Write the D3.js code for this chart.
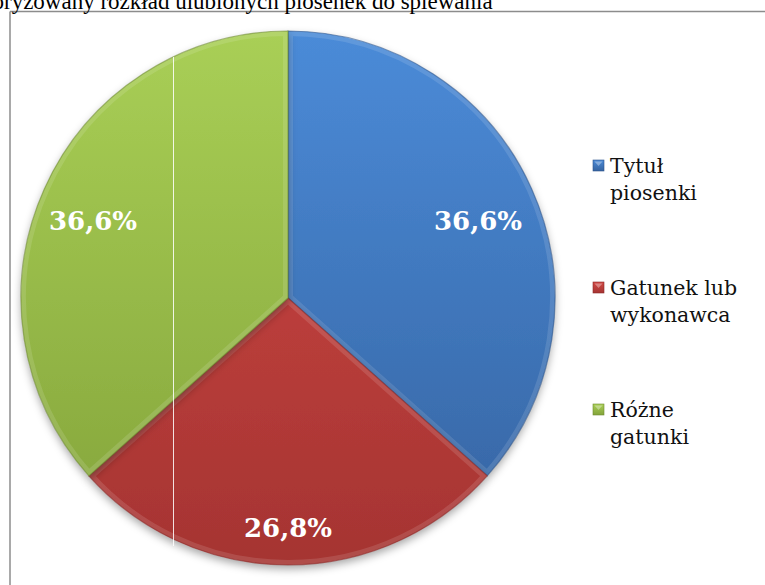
<!DOCTYPE html>
<html>
<head>
<meta charset="utf-8">
<script src="https://cdnjs.cloudflare.com/ajax/libs/d3/7.8.5/d3.min.js"></script>
<style>
body { margin: 0; background: #fff; }
svg { display: block; }
</style>
</head>
<body>
<svg id="chart" width="765" height="585"></svg>
<script>
var titleText = 'Skategoryzowany rozkład ulubionych piosenek do śpiewania'
var categories = ['Tytuł piosenki', 'Gatunek lub wykonawca', 'Różne gatunki']
var legendLines = [['Tytuł', 'piosenki'], ['Gatunek lub', 'wykonawca'], ['Różne', 'gatunki']]
var values = [36.6, 26.8, 36.6]
var labels = ['36,6%', '26,8%', '36,6%']
var topColors = ['#4b8bd8', '#d24844', '#a9cf56']
var bottomColors = ['#3563a0', '#a53432', '#83a33a']
var edgeColors = ['#2c538a', '#8a2a28', '#6e8a30']

var svg = d3.select('#chart')
var cx = 288, cy = 298, r = 267

var defs = svg.append('defs')
var grads = defs.selectAll('linearGradient').data(categories).enter()
	.append('linearGradient')
	.attr('id', function(d, i) { return 'g' + i })
	.attr('gradientUnits', 'userSpaceOnUse')
	.attr('x1', 0).attr('y1', -r).attr('x2', 0).attr('y2', r)
grads.append('stop').attr('offset', '0%').attr('stop-color', function(d, i) { return topColors[i] })
grads.append('stop').attr('offset', '100%').attr('stop-color', function(d, i) { return bottomColors[i] })

var shadow = defs.append('filter').attr('id', 'shadow')
	.attr('x', '-10%').attr('y', '-10%').attr('width', '120%').attr('height', '125%')
shadow.append('feDropShadow').attr('dx', 0).attr('dy', 4).attr('stdDeviation', 4)
	.attr('flood-color', '#000').attr('flood-opacity', 0.35)

// chart border (only top and left visible)
svg.append('line').attr('x1', 10).attr('y1', 11.5).attr('x2', 765).attr('y2', 11.5)
	.attr('stroke', '#8c8c8c').attr('stroke-width', 1.5)
svg.append('line').attr('x1', 10).attr('y1', 11.5).attr('x2', 10).attr('y2', 585)
	.attr('stroke', '#8c8c8c').attr('stroke-width', 1.5)

// title, cut at the left edge
var tmp = svg.append('text').attr('font-family', 'Liberation Serif').attr('font-size', 23).text('Skatego')
var prefixW = tmp.node().getComputedTextLength()
tmp.remove()
svg.append('text')
	.attr('x', 4 - prefixW).attr('y', 9)
	.attr('font-family', 'Liberation Serif').attr('font-size', 23).attr('fill', '#000')
	.text(titleText)

var pie = d3.pie().sort(null).value(function(d) { return d })
var arcs = pie(values)
var arc = d3.arc().innerRadius(0).outerRadius(r)

var g = svg.append('g').attr('transform', 'translate(' + cx + ',' + cy + ')')

arcs.forEach(function(a, i) {
	defs.append('clipPath').attr('id', 'c' + i).append('path').attr('d', arc(a))
})

var slices = g.selectAll('g.slice').data(arcs).enter().append('g').attr('class', 'slice')
slices.append('path')
	.attr('d', arc)
	.attr('fill', function(d, i) { return 'url(#g' + i + ')' })
	.attr('filter', 'url(#shadow)')
// bevel highlight inside each slice
slices.append('path')
	.attr('d', arc)
	.attr('fill', 'none')
	.attr('stroke', '#fff').attr('stroke-opacity', 0.12).attr('stroke-width', 10)
	.attr('clip-path', function(d, i) { return 'url(#c' + i + ')' })
slices.append('path')
	.attr('d', arc)
	.attr('fill', 'none')
	.attr('stroke', function(d, i) { return edgeColors[i] }).attr('stroke-opacity', 0.6).attr('stroke-width', 1.2)

// thin white vertical line over the pie
svg.append('line').attr('x1', 173.5).attr('y1', 57).attr('x2', 173.5).attr('y2', 546)
	.attr('stroke', '#fff').attr('stroke-opacity', 0.85).attr('stroke-width', 1)

// data labels
var labelPos = [[190, -68], [0, 239], [-195, -68]]
g.selectAll('text.lab').data(arcs).enter().append('text')
	.attr('class', 'lab')
	.attr('x', function(d, i) { return labelPos[i][0] })
	.attr('y', function(d, i) { return labelPos[i][1] })
	.attr('text-anchor', 'middle')
	.attr('font-family', 'DejaVu Serif').attr('font-weight', 'bold').attr('font-size', 26)
	.attr('fill', '#fff')
	.text(function(d, i) { return labels[i] })

// legend
var lgr = defs.selectAll('linearGradient.lg').data(categories).enter()
	.append('linearGradient').attr('class', 'lg')
	.attr('id', function(d, i) { return 'lg' + i })
	.attr('x1', 0).attr('y1', 0).attr('x2', 0).attr('y2', 1)
lgr.append('stop').attr('offset', '0%').attr('stop-color', function(d, i) { return topColors[i] })
lgr.append('stop').attr('offset', '100%').attr('stop-color', function(d, i) { return bottomColors[i] })

var legend = svg.append('g')
var items = legend.selectAll('g').data(categories).enter().append('g')
	.attr('transform', function(d, i) { return 'translate(593,' + (160 + i * 122) + ')' })
items.append('rect').attr('width', 11).attr('height', 11)
	.attr('fill', function(d, i) { return 'url(#lg' + i + ')' })
	.attr('stroke', function(d, i) { return edgeColors[i] }).attr('stroke-width', 0.6)
items.append('path').attr('d', 'M1.5,1.5 L9.5,1.5 L5.5,6 Z').attr('fill', '#fff').attr('fill-opacity', 0.35)
var txt = items.append('text')
	.attr('font-family', 'DejaVu Serif').attr('font-size', 20.5).attr('fill', '#111')
txt.selectAll('tspan').data(function(d, i) { return legendLines[i] }).enter().append('tspan')
	.attr('x', 17).attr('y', function(d, j) { return 13 + j * 27 })
	.text(function(d) { return d })
</script>
</body>
</html>
